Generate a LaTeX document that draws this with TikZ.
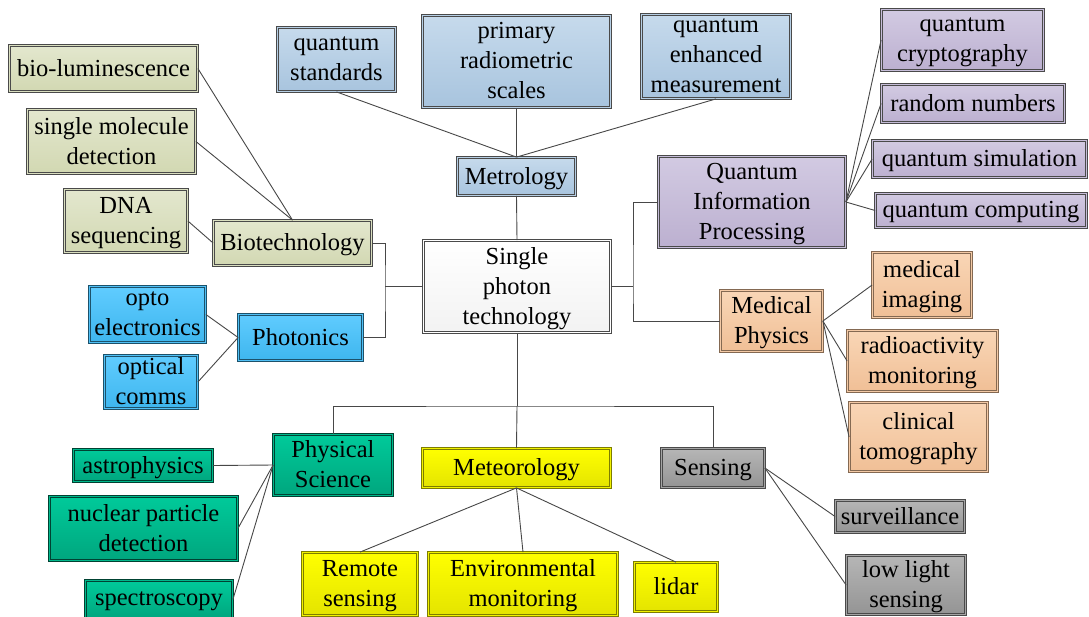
\documentclass[tikz,border=0pt]{standalone}
\usepackage{fontspec}
\setmainfont{Liberation Serif}
\definecolor{metT}{HTML}{C6DAEC}\definecolor{metB}{HTML}{A8C4DE}\definecolor{metD}{HTML}{B6CFE5}
\definecolor{bioT}{HTML}{E3E7CE}\definecolor{bioB}{HTML}{D2D8B2}\definecolor{bioD}{HTML}{DADFC0}
\definecolor{phoT}{HTML}{60CCFF}\definecolor{phoB}{HTML}{3EB6EE}\definecolor{phoD}{HTML}{50C0F6}
\definecolor{qipT}{HTML}{D2CAE2}\definecolor{qipB}{HTML}{BCB0D0}\definecolor{qipD}{HTML}{C6BDD9}
\definecolor{medT}{HTML}{F9D6B6}\definecolor{medB}{HTML}{F0BF96}\definecolor{medD}{HTML}{F4CAA6}
\definecolor{phyT}{HTML}{00CA9A}\definecolor{phyB}{HTML}{00A67E}\definecolor{phyD}{HTML}{00B88C}
\definecolor{meoT}{HTML}{FFFF00}\definecolor{meoB}{HTML}{E4E400}\definecolor{meoD}{HTML}{F2F200}
\definecolor{senT}{HTML}{B6B6B6}\definecolor{senB}{HTML}{949494}\definecolor{senD}{HTML}{A4A4A4}
\definecolor{edge}{HTML}{4A4A4A}
\begin{document}
\begin{tikzpicture}[x=1pt,y=-1pt,
  every node/.style={font=\fontsize{24.5}{30}\selectfont, align=center, inner sep=0pt, rectangle, text depth=1.5pt},
  box/.style={line width=0.8pt, double distance=1.6pt},
  conn/.style={draw=black!72, line width=0.9pt},
  cmet/.style={box, draw=edge, double=metD, top color=metT, bottom color=metB},
  cbio/.style={box, draw=edge, double=bioD, top color=bioT, bottom color=bioB},
  cpho/.style={box, draw=black!55!phoB, double=phoD, top color=phoT, bottom color=phoB},
  cqip/.style={box, draw=edge, double=qipD, top color=qipT, bottom color=qipB},
  cmed/.style={box, draw=black!45!medB, double=medD, top color=medT, bottom color=medB},
  cphy/.style={box, draw=black!60!phyB, double=phyD, top color=phyT, bottom color=phyB},
  cmeo/.style={box, draw=black!45!meoB, double=meoD, top color=meoT, bottom color=meoB},
  csen/.style={box, draw=edge, double=senD, top color=senT, bottom color=senB},
  ccen/.style={box, draw=edge, double=white, top color=white, bottom color=gray!10}]
\useasboundingbox (0,0) rectangle (1089,616);

% centre and Metrology
\node[ccen, minimum width=187, minimum height=92] (center) at (517,286.5) {Single\\photon\\technology};
\node[cmet, minimum width=118, minimum height=38] (metro) at (516.5,176.5) {Metrology};
\node[cmet, minimum width=118, minimum height=64] (qstd) at (336.5,59.5) {quantum\\standards};
\node[cmet, minimum width=188, minimum height=92] (prs) at (516.5,61.5) {primary\\radiometric\\scales};
\node[cmet, minimum width=149, minimum height=84] (qem) at (716,56.5) {quantum\\enhanced\\measurement};

% Quantum Information Processing
\node[cqip, minimum width=187, minimum height=91] (qip) at (752,202) {Quantum\\Information\\Processing};
\node[cqip, minimum width=162, minimum height=61] (qcrypt) at (962.5,40) {quantum\\cryptography};
\node[cqip, minimum width=183, minimum height=38] (rand) at (973,103.5) {random numbers};
\node[cqip, minimum width=214, minimum height=37] (qsim) at (979.5,159) {quantum simulation};
\node[cqip, minimum width=211, minimum height=34] (qcomp) at (981,210.5) {quantum computing};

% Medical Physics
\node[cmed, minimum width=102, minimum height=61] (med) at (771.5,321) {Medical\\Physics};
\node[cmed, minimum width=99, minimum height=65] (medimg) at (922,285) {medical\\imaging};
\node[cmed, minimum width=150, minimum height=61] (radio) at (922.5,361) {radioactivity\\monitoring};
\node[cmed, minimum width=138, minimum height=69] (clin) at (918.5,437) {clinical\\tomography};

% Sensing
\node[csen, minimum width=103, minimum height=39] (sensing) at (713,468) {Sensing};
\node[csen, minimum width=129, minimum height=32] (surv) at (900,516.5) {surveillance};
\node[csen, minimum width=119, minimum height=59] (lowlight) at (906,585) {low light\\sensing};

% Meteorology
\node[cmeo, minimum width=188, minimum height=39] (meteo) at (516.5,468) {Meteorology};
\node[cmeo, minimum width=115, minimum height=63] (remote) at (360,584) {Remote\\sensing};
\node[cmeo, minimum width=189, minimum height=63] (env) at (523,584) {Environmental\\monitoring};
\node[cmeo, minimum width=83, minimum height=49] (lidar) at (676,587) {lidar};

% Physical Science
\node[cphy, minimum width=119, minimum height=61] (phys) at (333,465) {Physical\\Science};
\node[cphy, minimum width=139, minimum height=32] (astro) at (143,465.5) {astrophysics};
\node[cphy, minimum width=188, minimum height=64] (nuclear) at (143.5,528.5) {nuclear particle\\detection};
\node[cphy, minimum width=147, minimum height=38] (spectro) at (159,599.5) {spectroscopy};

% Biotechnology
\node[cbio, minimum width=158, minimum height=45] (biotech) at (292.5,243) {Biotechnology};
\node[cbio, minimum width=188, minimum height=46] (biolum) at (103.5,68.5) {bio-luminescence};
\node[cbio, minimum width=168, minimum height=64] (smd) at (111.5,141.5) {single molecule\\detection};
\node[cbio, minimum width=123, minimum height=63] (dna) at (126,221) {DNA\\sequencing};

% Photonics
\node[cpho, minimum width=124, minimum height=46] (photonics) at (300.5,337.5) {Photonics};
\node[cpho, minimum width=116, minimum height=56] (opto) at (147.5,314.5) {opto\\electronics};
\node[cpho, minimum width=93, minimum height=53] (optcomm) at (151,382) {optical\\comms};

% junctions
\coordinate (rj) at (633,286.5);
\coordinate (lj) at (385,286.5);
\coordinate (bj) at (517,406);

% connectors
\draw[conn] (qstd.south) -- (metro.north);
\draw[conn] (prs.south) -- (metro.north);
\draw[conn] (qem.south) -- (metro.north);
\draw[conn] (metro.south) -- (center.north);

\draw[conn] (center.east) -- (rj);
\draw[conn] (qip.west) -| (rj) |- (med.west);
\draw[conn] (center.west) -- (lj);
\draw[conn] (biotech.east) -| (lj) |- (photonics.east);
\draw[conn] (center.south) -- (bj);
\draw[conn] (phys.north) |- (bj) -| (sensing.north);
\draw[conn] (bj) -- (meteo.north);

\draw[conn] (qip.east) -- (qcrypt.west);
\draw[conn] (qip.east) -- (rand.west);
\draw[conn] (qip.east) -- (qsim.west);
\draw[conn] (qip.east) -- (qcomp.west);

\draw[conn] (med.east) -- (medimg.west);
\draw[conn] (med.east) -- (radio.west);
\draw[conn] (med.east) -- (clin.west);

\draw[conn] (sensing.east) -- (surv.west);
\draw[conn] (sensing.east) -- (lowlight.west);

\draw[conn] (meteo.south) -- (remote.north);
\draw[conn] (meteo.south) -- (env.north);
\draw[conn] (meteo.south) -- (lidar.north);

\draw[conn] (phys.west) -- (astro.east);
\draw[conn] (phys.west) -- (nuclear.east);
\draw[conn] (phys.west) -- (spectro.east);

\draw[conn] (biotech.north) -- (biolum.east);
\draw[conn] (biotech.north) -- (smd.east);
\draw[conn] (biotech.west) -- (dna.east);

\draw[conn] (photonics.west) -- (opto.east);
\draw[conn] (photonics.west) -- (optcomm.east);
\end{tikzpicture}
\end{document}
